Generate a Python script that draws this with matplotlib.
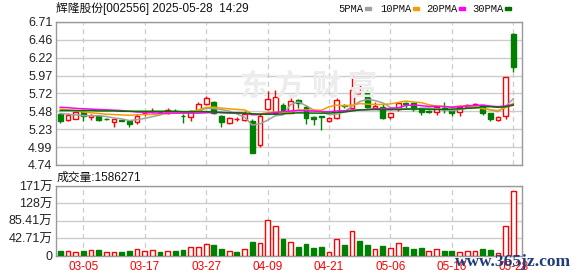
import matplotlib
matplotlib.use("Agg")
import matplotlib.pyplot as plt
from matplotlib.patches import Rectangle

plt.rcParams['font.family'] = ['Liberation Sans', 'Noto Sans CJK SC']

W, H = 578, 276

# ---- data ----
tick_idx = [3, 11, 19, 27, 35, 43, 51, 59]
tick_dates = ['03-05', '03-17', '03-27', '04-09', '04-21', '05-06', '05-16', '05-28']

opens = [5.44, 5.36, 5.38, 5.47, 5.40, 5.41, 5.38, 5.33, 5.36, 5.34,
         5.33, 5.45, 5.48, 5.47, 5.46, 5.49, 5.42, 5.40, 5.49, 5.575,
         5.605, 5.415, 5.32, 5.37, 5.36, 5.35, 5.01, 5.51, 5.45, 5.56,
         5.46, 5.63, 5.545, 5.40, 5.41, 5.35, 5.39, 5.57, 5.52, 5.71,
         5.73, 5.52, 5.54, 5.405, 5.51, 5.595, 5.595, 5.51, 5.49, 5.465,
         5.53, 5.50, 5.465, 5.535, 5.56, 5.565, 5.45, 5.36, 5.41, 6.55]
highs = [5.46, 5.46, 5.48, 5.47, 5.44, 5.42, 5.39, 5.37, 5.38, 5.35,
         5.44, 5.48, 5.52, 5.48, 5.53, 5.51, 5.44, 5.50, 5.61, 5.69,
         5.62, 5.43, 5.40, 5.40, 5.48, 5.37, 5.45, 5.76, 5.77, 5.60,
         5.66, 5.65, 5.56, 5.42, 5.42, 5.40, 5.66, 5.58, 5.99, 5.84,
         5.78, 5.61, 5.59, 5.46, 5.61, 5.61, 5.61, 5.52, 5.50, 5.54,
         5.605, 5.51, 5.54, 5.58, 5.60, 5.57, 5.46, 5.42, 5.95, 6.56]
lows = [5.32, 5.35, 5.37, 5.35, 5.36, 5.35, 5.36, 5.27, 5.34, 5.27,
        5.30, 5.42, 5.455, 5.44, 5.44, 5.45, 5.32, 5.35, 5.48, 5.56,
        5.44, 5.27, 5.31, 5.34, 5.34, 4.90, 4.99, 5.50, 5.43, 5.49,
        5.45, 5.52, 5.30, 5.29, 5.22, 5.33, 5.38, 5.52, 5.51, 5.71,
        5.53, 5.51, 5.38, 5.37, 5.49, 5.53, 5.48, 5.43, 5.455, 5.43,
        5.46, 5.42, 5.42, 5.52, 5.54, 5.43, 5.34, 5.34, 5.37, 6.02]
closes = [5.35, 5.43, 5.47, 5.41, 5.43, 5.36, 5.37, 5.37, 5.35, 5.31,
          5.42, 5.46, 5.49, 5.46, 5.50, 5.47, 5.41, 5.48, 5.58, 5.66,
          5.46, 5.33, 5.39, 5.38, 5.44, 4.91, 5.41, 5.65, 5.68, 5.50,
          5.62, 5.60, 5.39, 5.38, 5.40, 5.39, 5.635, 5.55, 5.77, 5.72,
          5.54, 5.555, 5.385, 5.455, 5.60, 5.58, 5.51, 5.465, 5.47, 5.535,
          5.51, 5.45, 5.535, 5.565, 5.58, 5.45, 5.37, 5.40, 5.95, 6.09]

ma5 = [5.45, 5.44, 5.43, 5.42, 5.418, 5.42, 5.408, 5.388, 5.376, 5.352,
       5.364, 5.382, 5.406, 5.428, 5.466, 5.476, 5.466, 5.464, 5.488, 5.52,
       5.518, 5.502, 5.484, 5.444, 5.40, 5.29, 5.306, 5.358, 5.418, 5.43,
       5.572, 5.61, 5.558, 5.498, 5.478, 5.432, 5.44, 5.472, 5.55, 5.614,
       5.644, 5.628, 5.596, 5.534, 5.51, 5.518, 5.508, 5.524, 5.526, 5.514,
       5.50, 5.488, 5.502, 5.522, 5.53, 5.518, 5.502, 5.474, 5.55, 5.652]
ma10 = [5.51, 5.50, 5.49, 5.47, 5.46, 5.45, 5.44, 5.435, 5.43, 5.425,
        5.432, 5.435, 5.437, 5.442, 5.449, 5.46, 5.464, 5.475, 5.498, 5.533,
        5.537, 5.524, 5.514, 5.506, 5.50, 5.444, 5.444, 5.461, 5.471, 5.455,
        5.471, 5.498, 5.498, 5.498, 5.494, 5.542, 5.565, 5.555, 5.564, 5.586,
        5.578, 5.574, 5.574, 5.582, 5.602, 5.621, 5.608, 5.60, 5.57, 5.552,
        5.549, 5.538, 5.553, 5.55, 5.54, 5.52, 5.50, 5.49, 5.53, 5.59]
ma20 = [5.535, 5.53, 5.52, 5.515, 5.51, 5.505, 5.50, 5.495, 5.49, 5.48,
        5.47, 5.465, 5.46, 5.455, 5.455, 5.455, 5.455, 5.455, 5.455, 5.459,
        5.464, 5.46, 5.456, 5.454, 5.454, 5.432, 5.434, 5.448, 5.464, 5.474,
        5.484, 5.491, 5.486, 5.482, 5.477, 5.473, 5.484, 5.488, 5.498, 5.50,
        5.504, 5.516, 5.516, 5.52, 5.528, 5.56, 5.566, 5.558, 5.547, 5.549,
        5.544, 5.536, 5.544, 5.553, 5.562, 5.565, 5.552, 5.544, 5.553, 5.572]
ma30 = [5.49, 5.49, 5.49, 5.49, 5.49, 5.485, 5.485, 5.485, 5.48, 5.48,
        5.48, 5.48, 5.48, 5.48, 5.48, 5.48, 5.475, 5.475, 5.475, 5.475,
        5.47, 5.465, 5.46, 5.46, 5.455, 5.445, 5.44, 5.44, 5.44, 5.444,
        5.453, 5.459, 5.456, 5.455, 5.454, 5.455, 5.464, 5.47, 5.484, 5.498,
        5.502, 5.505, 5.502, 5.502, 5.505, 5.509, 5.512, 5.512, 5.508, 5.504,
        5.506, 5.51, 5.515, 5.521, 5.526, 5.544, 5.543, 5.534, 5.543, 5.563]

# volume in 万, and whether the bar is drawn as "up" (red)
volume = [11.5, 12.3, 8.2, 10.6, 13.1, 13.9, 8.2, 9.8, 9.0, 10.6,
          15.5, 10.6, 13.1, 8.2, 12.3, 10.6, 13.1, 20.5, 20.5, 27.8,
          25.4, 16.4, 12.3, 8.2, 15.5, 32.7, 30.3, 86.7, 73.6, 40.1,
          34.4, 20.5, 27.8, 18.0, 20.5, 9.8, 40.1, 25.4, 59.7, 35.2,
          25.4, 15.5, 22.9, 18.0, 31.9, 20.5, 15.5, 18.0, 12.3, 15.5,
          12.3, 10.6, 9.8, 12.3, 12.3, 15.5, 13.1, 7.4, 73.6, 158.6]
vol_up = [0, 1, 1, 0, 1, 0, 1, 1, 0, 0,
          1, 1, 1, 0, 1, 0, 0, 1, 1, 1,
          0, 0, 1, 0, 1, 0, 1, 1, 1, 0,
          1, 0, 0, 0, 0, 1, 1, 0, 1, 0,
          0, 1, 0, 1, 1, 0, 0, 0, 1, 1,
          0, 0, 1, 1, 1, 0, 0, 1, 1, 1]

price_ticks = [6.71, 6.46375, 6.2175, 5.97125, 5.725, 5.47875, 5.2325, 4.98625, 4.74]
price_labels = ['6.71', '6.46', '6.22', '5.97', '5.72', '5.48', '5.23', '4.99', '4.74']
vol_ticks = [0, 42.71, 85.41, 128.12, 170.83]
vol_labels = ['0', '42.71万', '85.41万', '128万', '171万']

RED = '#ff0000'
GREEN = '#008000'
GRID = '#cccccc'

fig = plt.figure(figsize=(W / 100, H / 100), dpi=100)
axp = fig.add_axes([56 / W, 1 - 165 / H, 466.3 / W, 143 / H])
axv = fig.add_axes([56 / W, 1 - 255.6 / H, 466.3 / W, 69.6 / H])

x = list(range(len(closes)))

for ax in (axp, axv):
    ax.set_xlim(-0.55, 60.17)
    for s in ax.spines.values():
        s.set_color('#999999')
        s.set_linewidth(1.0)
    ax.tick_params(length=0, labelsize=9, colors='#222222', pad=2.5)
    for t in tick_idx:
        ax.axvline(t, color=GRID, lw=0.9, ls=(0, (4, 3)), zorder=0)

# faint logo text behind the candles
for ch, px in zip('东方财富', [254, 290, 326, 362]):
    fig.text(px / W, 1 - 86 / H, ch, fontsize=21, color='#ececec',
             fontweight='bold', ha='center', va='center', zorder=0,
             family=['Noto Sans CJK SC'])

# price panel
axp.set_ylim(4.74, 6.71)
axp.set_yticks(price_ticks)
axp.set_yticklabels(price_labels)
axp.set_xticks([])
axp.grid(axis='y', color=GRID, lw=1.0, zorder=0)
axp.set_facecolor('none')

for i in x:
    o, h, l, c = opens[i], highs[i], lows[i], closes[i]
    up = c >= o
    col = RED if up else GREEN
    axp.vlines(i, l, h, color=col, lw=1.0, zorder=2)
    bot = min(o, c)
    ht = max(abs(c - o), 0.006)
    axp.bar(i, ht, bottom=bot, width=0.62, facecolor='white' if up else col,
            edgecolor=col, lw=1.0, zorder=3)

axp.plot(x, ma5, color='#a0a0a0', lw=1.1, zorder=4)
axp.plot(x, ma10, color='#f0a000', lw=1.1, zorder=4)
axp.plot(x, ma20, color='#ff00ff', lw=1.1, zorder=4)
axp.plot(x, ma30, color='#007000', lw=1.1, zorder=4)

# volume panel
axv.set_ylim(0, 170.83)
axv.set_yticks(vol_ticks)
axv.set_yticklabels(vol_labels)
axv.grid(axis='y', color=GRID, lw=1.0, zorder=0)
for i in x:
    col = RED if vol_up[i] else GREEN
    axv.bar(i, volume[i], width=0.62, facecolor='white' if vol_up[i] else col,
            edgecolor=col, lw=1.0, zorder=3)
axv.set_xticks(tick_idx)
axv.set_xticklabels(tick_dates)
axv.tick_params(axis='x', colors=RED, labelsize=8.5, pad=4)

# header texts
fig.text(56 / W, 1 - 8.5 / H, '辉隆股份[002556] 2025-05-28  14:29', fontsize=8.5,
         color='#111111', ha='left', va='center')
fig.text(57 / W, 1 - 177.5 / H, '成交量:1586271', fontsize=8.5,
         color='#111111', ha='left', va='center')

legend = [('5PMA', 338, 365, '#a0a0a0'), ('10PMA', 380, 413, '#f0a000'),
          ('20PMA', 426, 459, '#ff00ff'), ('30PMA', 472, 505, '#007000')]
for lab, tx, sx, col in legend:
    fig.text(tx / W, 1 - 8.5 / H, lab, fontsize=7.6, color='#111111',
             ha='left', va='center', family=['Liberation Mono'])
    fig.add_artist(Rectangle((sx / W, 1 - 10 / H), 6 / W, 2.5 / H,
                             transform=fig.transFigure, color=col))

# site watermark, lying over the last date labels as in the source image
fig.text(513 / W, 1 - 262 / H, 'www.365jz.com', fontsize=12.5, color='#1f3d7a',
         ha='center', va='center', family=['Liberation Serif'], fontweight='bold')

fig.savefig('out.png', dpi=100)
